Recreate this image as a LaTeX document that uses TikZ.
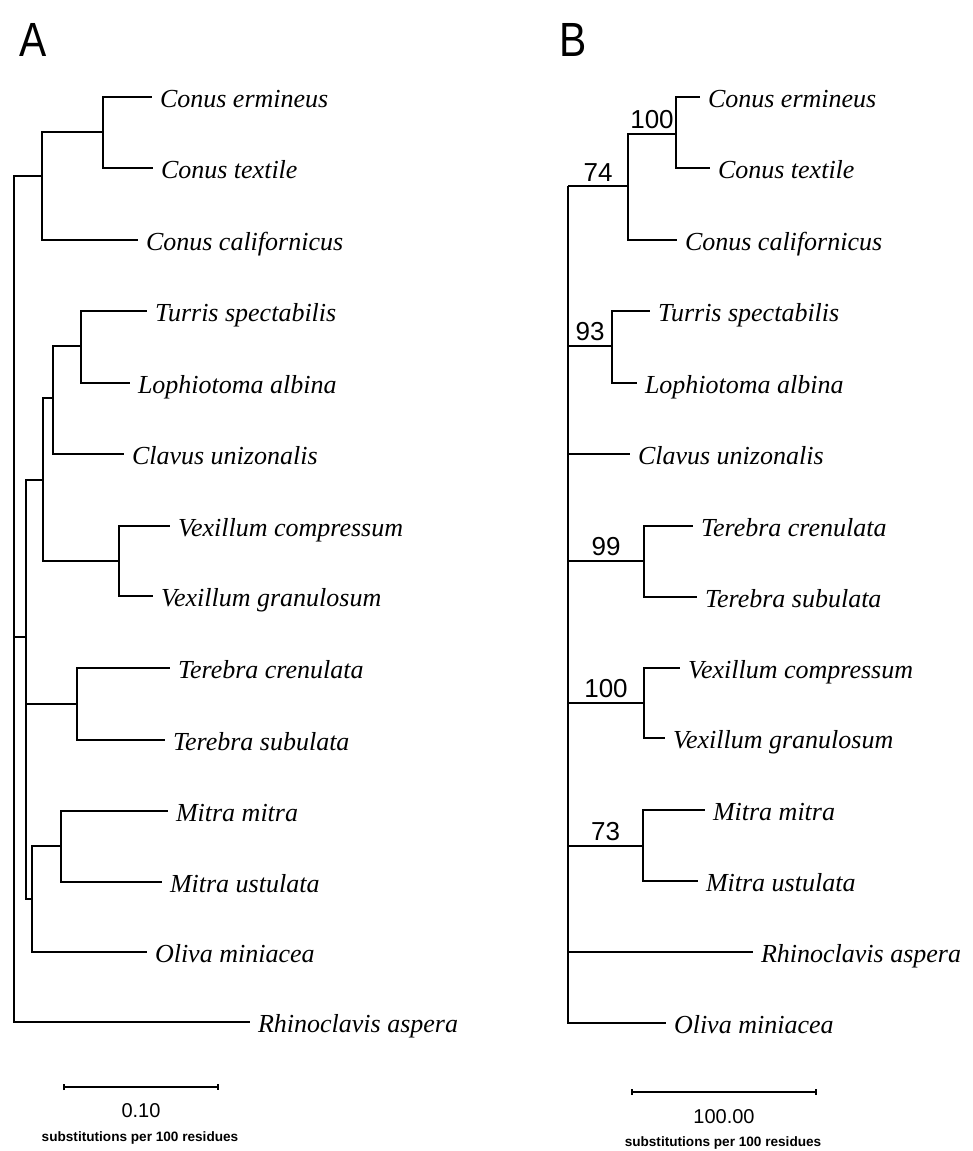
\documentclass[tikz,border=0pt]{standalone}
\usepackage{fontspec}
\setmainfont{Liberation Serif}
\setsansfont{Liberation Sans}
\usetikzlibrary{arrows.meta}

\begin{document}
\begin{tikzpicture}[
        x=0.5pt, y=-0.5pt, % one unit is one pixel of the scan
        line join=miter,
        line width=0.9pt % default thickness of the branches
        ]
        \useasboundingbox (0,0) rectangle (973,1151);

        % 1. Styles for the texts
        \colorlet{branch}{black}
        \tikzset{
            taxon/.style={anchor=west, inner sep=0pt, outer xsep=4pt, text height=10pt, text depth=0pt,
                font=\fontsize{13}{15}\selectfont\itshape},
            boot/.style={font=\sffamily\fontsize{13}{15}\selectfont, inner sep=2pt},
            panel/.style={font=\sffamily\fontsize{24}{28}\selectfont, xscale=0.85, transform shape},
            barval/.style={font=\sffamily\fontsize{10}{12}\selectfont},
            barunit/.style={font=\sffamily\bfseries\fontsize{6.8}{8}\selectfont}
        }

        % 2. Panel letters
        \node[panel] (labA) at (33,40) {A};
        \node[panel] (labB) at (573,40) {B};

        % 3. Tree A: taxa (node placed where the branch ends)
        \node[taxon] (Aerm) at (152,97) {Conus ermineus};
        \node[taxon] (Atex) at (153,168) {Conus textile};
        \node[taxon] (Acal) at (138,240) {Conus californicus};
        \node[taxon] (Atur) at (147,311) {Turris spectabilis};
        \node[taxon] (Alop) at (130,383) {Lophiotoma albina};
        \node[taxon] (Acla) at (124,454) {Clavus unizonalis};
        \node[taxon] (Avco) at (170,526) {Vexillum compressum};
        \node[taxon] (Avgr) at (153,596) {Vexillum granulosum};
        \node[taxon] (Atcr) at (170,668) {Terebra crenulata};
        \node[taxon] (Atsu) at (165,740) {Terebra subulata};
        \node[taxon] (Ammi) at (168,811) {Mitra mitra};
        \node[taxon] (Amus) at (162,882) {Mitra ustulata};
        \node[taxon] (Aoli) at (147,952) {Oliva miniacea};
        \node[taxon] (Arhi) at (250,1022) {Rhinoclavis aspera};

        % Tree A: inner nodes
        \coordinate (Aroot) at (14,637);
        \coordinate (AnCo) at (42,176);
        \coordinate (AnCe) at (103,132);
        \coordinate (AnIn) at (26,637);
        \coordinate (AnTV) at (43,480);
        \coordinate (AnTC) at (53,398);
        \coordinate (AnTL) at (81,346);
        \coordinate (AnVe) at (119,561);
        \coordinate (AnTe) at (77,704);
        \coordinate (AnMO) at (32,899);
        \coordinate (AnMi) at (61,846);

        % Tree A: branches
        \draw[branch] (Aroot) |- (AnCo);
        \draw[branch] (Aroot) |- (Arhi);
        \draw[branch] (Aroot) -- (AnIn);
        \draw[branch] (AnCo) |- (AnCe);
        \draw[branch] (AnCo) |- (Acal);
        \draw[branch] (AnCe) |- (Aerm);
        \draw[branch] (AnCe) |- (Atex);
        \draw[branch] (AnIn) |- (AnTV);
        \draw[branch] (AnIn) |- (AnTe);
        \draw[branch] (AnIn) |- (AnMO);
        \draw[branch] (AnTV) |- (AnTC);
        \draw[branch] (AnTV) |- (AnVe);
        \draw[branch] (AnTC) |- (AnTL);
        \draw[branch] (AnTC) |- (Acla);
        \draw[branch] (AnTL) |- (Atur);
        \draw[branch] (AnTL) |- (Alop);
        \draw[branch] (AnVe) |- (Avco);
        \draw[branch] (AnVe) |- (Avgr);
        \draw[branch] (AnTe) |- (Atcr);
        \draw[branch] (AnTe) |- (Atsu);
        \draw[branch] (AnMO) |- (AnMi);
        \draw[branch] (AnMO) |- (Aoli);
        \draw[branch] (AnMi) |- (Ammi);
        \draw[branch] (AnMi) |- (Amus);

        % 4. Tree B: taxa
        \node[taxon] (Berm) at (700,97) {Conus ermineus};
        \node[taxon] (Btex) at (710,168) {Conus textile};
        \node[taxon] (Bcal) at (677,240) {Conus californicus};
        \node[taxon] (Btur) at (650,311) {Turris spectabilis};
        \node[taxon] (Blop) at (637,383) {Lophiotoma albina};
        \node[taxon] (Bcla) at (630,454) {Clavus unizonalis};
        \node[taxon] (Btcr) at (693,526) {Terebra crenulata};
        \node[taxon] (Btsu) at (697,597) {Terebra subulata};
        \node[taxon] (Bvco) at (680,668) {Vexillum compressum};
        \node[taxon] (Bvgr) at (665,738) {Vexillum granulosum};
        \node[taxon] (Bmmi) at (705,810) {Mitra mitra};
        \node[taxon] (Bmus) at (698,881) {Mitra ustulata};
        \node[taxon] (Brhi) at (753,952) {Rhinoclavis aspera};
        \node[taxon] (Boli) at (666,1023) {Oliva miniacea};

        % Tree B: inner nodes
        \coordinate (Broot) at (568,186);
        \coordinate (Bn74) at (628,186);
        \coordinate (Bn100) at (676,134);
        \coordinate (Bn93) at (612,346);
        \coordinate (Bn99) at (644,561);
        \coordinate (BnVe) at (644,703);
        \coordinate (Bn73) at (643,846);

        % Tree B: branches with bootstrap values
        \draw[branch] (Broot) -- (Bn74) node[boot, midway, above] {74};
        \draw[branch] (Bn74) |- (Bn100) node[boot, pos=0.75, above] {100};
        \draw[branch] (Bn74) |- (Bcal);
        \draw[branch] (Bn100) |- (Berm);
        \draw[branch] (Bn100) |- (Btex);
        \draw[branch] (Broot) |- (Bn93) node[boot, pos=0.75, above] {93};
        \draw[branch] (Bn93) |- (Btur);
        \draw[branch] (Bn93) |- (Blop);
        \draw[branch] (Broot) |- (Bcla);
        \draw[branch] (Broot) |- (Bn99) node[boot, pos=0.75, above] {99};
        \draw[branch] (Bn99) |- (Btcr);
        \draw[branch] (Bn99) |- (Btsu);
        \draw[branch] (Broot) |- (BnVe) node[boot, pos=0.75, above] {100};
        \draw[branch] (BnVe) |- (Bvco);
        \draw[branch] (BnVe) |- (Bvgr);
        \draw[branch] (Broot) |- (Bn73) node[boot, pos=0.75, above] {73};
        \draw[branch] (Bn73) |- (Bmmi);
        \draw[branch] (Bn73) |- (Bmus);
        \draw[branch] (Broot) |- (Brhi);
        \draw[branch] (Broot) |- (Boli);

        % 5. Scale bars
        \coordinate (AbarL) at (63,1087);
        \coordinate (AbarR) at (219,1087);
        \draw[{Bar[width=3pt]}-{Bar[width=3pt]}, line width=0.8pt] (AbarL) -- (AbarR);
        \node[barval] (Abarval) at (141,1111) {0.10};
        \node[barunit] (Abarunit) at (140,1138) {substitutions per 100 residues};

        \coordinate (BbarL) at (631,1092);
        \coordinate (BbarR) at (817,1092);
        \draw[{Bar[width=3pt]}-{Bar[width=3pt]}, line width=0.8pt] (BbarL) -- (BbarR);
        \node[barval] (Bbarval) at (724,1117) {100.00};
        \node[barunit] (Bbarunit) at (723,1143) {substitutions per 100 residues};
    \end{tikzpicture}
\end{document}
